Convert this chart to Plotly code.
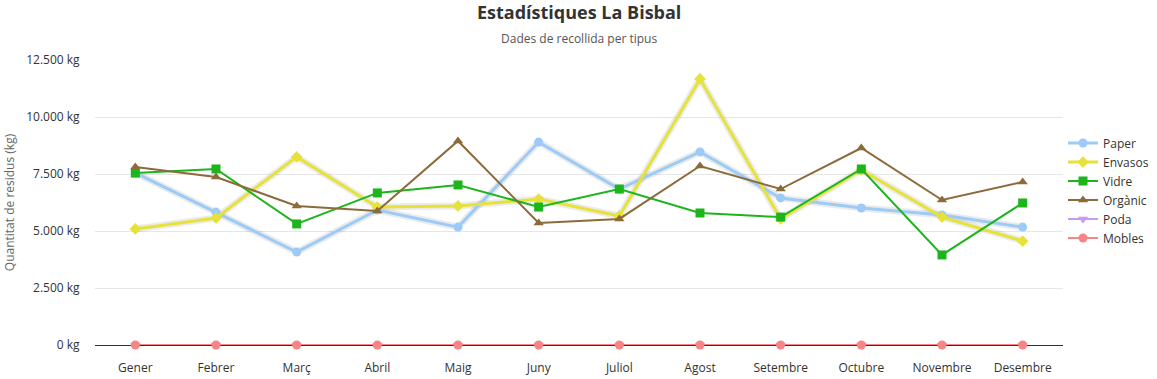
import plotly.graph_objects as go

months = ["Gener", "Febrer", "Març", "Abril", "Maig", "Juny", "Juliol", "Agost",
          "Setembre", "Octubre", "Novembre", "Desembre"]
paper = [7550, 5830, 4080, 5920, 5170, 8900, 6840, 8470, 6450, 6010, 5700, 5170]
envasos = [5090, 5570, 8250, 6050, 6100, 6400, 5660, 11670, 5530, 7680, 5610, 4560]
vidre = [7540, 7720, 5310, 6670, 7020, 6050, 6840, 5790, 5610, 7720, 3950, 6230]
organic = [7810, 7370, 6100, 5880, 8950, 5350, 5530, 7850, 6840, 8640, 6360, 7150]
poda = [0] * 12
mobles = [0] * 12

series = [
    ("Paper", paper, "#9ccbf7", "circle", 3, True),
    ("Envasos", envasos, "#e6e23a", "diamond", 3, True),
    ("Vidre", vidre, "#1cb51c", "square", 2, False),
    ("Orgànic", organic, "#8c6a3a", "triangle-up", 2, False),
    ("Poda", poda, "#c59cf2", "triangle-down", 2, False),
    ("Mobles", mobles, "#f78585", "circle", 2, False),
]

fig = go.Figure()
# soft shadows for highlighted lines
for name, vals, color, sym, w, shadow in series:
    if shadow:
        fig.add_trace(go.Scatter(x=months, y=vals, mode="lines", showlegend=False,
                                 hoverinfo="skip",
                                 line=dict(color="rgba(0,0,0,0.08)", width=w + 4)))
for name, vals, color, sym, w, shadow in series:
    fig.add_trace(go.Scatter(
        x=months, y=vals, name=name, mode="lines+markers",
        line=dict(color=color, width=w),
        marker=dict(symbol=sym, size=9, color=color),
        cliponaxis=False,
    ))

fig.update_layout(
    width=1157, height=379,
    margin=dict(l=95, r=94, t=60, b=34, autoexpand=False),
    paper_bgcolor="white", plot_bgcolor="white",
    font=dict(family="Open Sans, Noto Sans, sans-serif", size=12, color="#333"),
    separators=",.",
    showlegend=True,
    legend=dict(x=1.0, y=0.542, yanchor="middle", xanchor="left",
                font=dict(size=12, color="#333"), itemwidth=30,
                tracegroupgap=0, bgcolor="rgba(0,0,0,0)"),
    annotations=[
        dict(text="<b>Estadístiques La Bisbal</b>", x=0.5, y=(345 - 12) / 285, xref="paper", yref="paper",
             xanchor="center", yanchor="middle", showarrow=False,
             font=dict(size=18, color="#333", family="Open Sans, sans-serif")),
        dict(text="Dades de recollida per tipus", x=0.5, y=(345 - 38) / 285, xref="paper", yref="paper",
             xanchor="center", yanchor="middle", showarrow=False,
             font=dict(size=12, color="#555")),
    ],
)
fig.update_xaxes(range=[-0.5, 11.5], showgrid=False, ticks="outside", ticklen=12,
                 tickcolor="rgba(0,0,0,0)", tickfont=dict(size=12, color="#333"),
                 showline=False, zeroline=False, automargin=False)
fig.update_yaxes(range=[0, 12500], dtick=2500, ticksuffix=" kg", tickformat=",d",
                 showgrid=True, gridcolor="#e6e6e6", gridwidth=1,
                 zeroline=True, zerolinecolor="#333", zerolinewidth=1,
                 ticks="outside", ticklen=12, tickcolor="rgba(0,0,0,0)",
                 tickfont=dict(size=12, color="#333"), automargin=False,
                 title=dict(text="Quantitat de residus (kg)", font=dict(size=12, color="#666"),
                            standoff=8))

fig.write_html("out.html", config={"displayModeBar": False},
               post_script="document.body.style.margin='0';")
